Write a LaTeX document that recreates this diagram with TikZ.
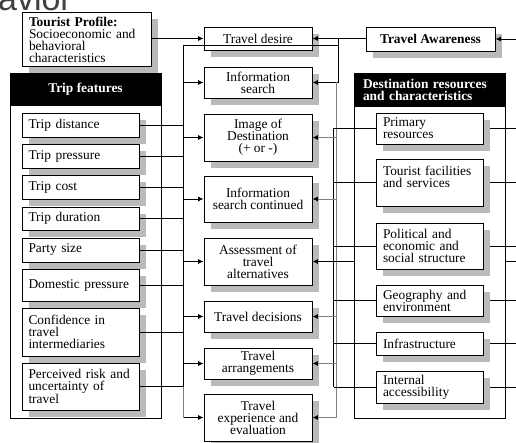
\documentclass[tikz,border=0pt]{standalone}
\usepackage{fontspec}
\setmainfont{Liberation Serif}
\newfontfamily\titlesans{Liberation Sans}
\usetikzlibrary{arrows.meta,shadows}
\setlength{\lineskiplimit}{-6pt}
\begin{document}
\begin{tikzpicture}[x=1pt,y=-1pt,
  font=\fontsize{13.4}{12}\selectfont,
  box/.style={draw=black,line width=0.9pt,fill=white,inner sep=0pt,
    drop shadow={shadow xshift=7pt,shadow yshift=-7pt,fill=black!27,opacity=1}},
  trip/.style={box,align=left,minimum width=117pt,text width=104pt},
  res/.style={box,align=left,minimum width=107pt,text width=93pt},
  mid/.style={box,align=center,minimum width=108pt},
  panel/.style={draw=black,line width=0.9pt,fill=white,inner sep=0pt,minimum width=151pt},
  head/.style={fill=black,draw=black,text=white,inner sep=0pt,minimum width=151pt,font=\fontsize{13.4}{12}\selectfont\bfseries},
  bl/.style={draw=black,line width=0.8pt},
  gl/.style={draw=black!50,line width=0.8pt},
  barr/.style={bl,-{Latex[length=5.5pt,width=5pt]}},
  garr/.style={gl,-{Latex[length=5.5pt,width=5pt,color=black]}}
]
\useasboundingbox (0,0) rectangle (516,443);

% partial title
\node[font=\titlesans\fontsize{34}{34}\selectfont,text=black!75,anchor=base east,inner sep=0pt] (ttl) at (72,10.5) {avior};

% tourist profile
\node[box,align=left,minimum width=129pt,text width=115pt,minimum height=54pt] (tp) at (86.5,39.5)
  {\textbf{Tourist Profile:}\\Socioeconomic and\\behavioral\\characteristics};

% panels
\node[panel,minimum height=345pt] (pl) at (85.5,245.5) {};
\node[head,minimum height=32pt] (hl) at (85.5,89) {Trip features};
\node[panel,minimum height=345pt] (pr) at (429.5,245.5) {};
\node[head,minimum height=33pt,align=left,text width=133pt] (hr) at (429.5,89.5) {Destination resources\\and characteristics};

% trip features
\node[trip,minimum height=24pt] (t1) at (80.5,125) {Trip distance};
\node[trip,minimum height=24pt] (t2) at (80.5,156) {Trip pressure};
\node[trip,minimum height=24pt] (t3) at (80.5,187) {Trip cost};
\node[trip,minimum height=23pt] (t4) at (80.5,218.5) {Trip duration};
\node[trip,minimum height=24pt] (t5) at (80.5,250) {Party size};
\node[trip,minimum height=32pt] (t6) at (80.5,285) {Domestic pressure};
\node[trip,minimum height=48pt] (t7) at (80.5,332) {Confidence in\\travel\\intermediaries};
\node[trip,minimum height=47pt] (t8) at (80.5,386.5) {Perceived risk and\\uncertainty of\\travel};

% destination resources
\node[res,minimum height=31pt] (r1) at (429.5,128.5) {Primary\\resources};
\node[res,minimum height=47pt] (r2) at (429.5,182.5) {Tourist facilities\\and services\\[0pt]\mbox{}};
\node[res,minimum height=46pt] (r3) at (429.5,246) {Political and\\economic and\\social structure};
\node[res,minimum height=31pt] (r4) at (429.5,300.5) {Geography and\\environment};
\node[res,minimum height=23pt] (r5) at (429.5,343.5) {Infrastructure};
\node[res,minimum height=32pt] (r6) at (429.5,387) {Internal\\accessibility};

% middle column
\node[mid,minimum height=23pt] (td) at (258,38.5) {Travel desire};
\node[mid,minimum height=31pt] (is) at (258,82.5) {Information\\search};
\node[mid,minimum height=47pt] (im) at (258,137.5) {Image of\\Destination\\(+ or -)};
\node[mid,minimum height=46pt] (isc) at (258,199) {Information\\search continued};
\node[mid,minimum height=47pt] (as) at (258,261.5) {Assessment of\\travel\\alternatives};
\node[mid,minimum height=31pt] (dec) at (258,316.5) {Travel decisions};
\node[mid,minimum height=31pt] (arr) at (258,363.5) {Travel\\arrangements};
\node[mid,minimum height=47pt] (te) at (258,417.5) {Travel\\experience and\\evaluation};

% travel awareness
\node[box,minimum width=129pt,minimum height=24pt,font=\fontsize{13.4}{12}\selectfont\bfseries] (ta) at (430.5,39) {Travel Awareness};

% bus coordinates
\coordinate (LG) at (183.5,45);
\coordinate (RT) at (338,38.5);
\coordinate (RG) at (338,45);
\coordinate (RGx) at (336.5,0);
\coordinate (RBx) at (333.5,0);
\coordinate (RE) at (516,0);

% left side connectors
\draw[barr] (tp.east |- td) -- (td.west);
\draw[gl] (LG) -- (LG |- te);
\draw[bl] (LG) -- (LG |- t8);
\foreach \n in {t1,t2,t3,t4,t5,t6,t7,t8} \draw[bl] (\n.east) -- (LG |- \n);
\foreach \n in {is,im,isc,as,dec,arr,te} \draw[barr] (LG |- \n) -- (\n.west);

% top cross line and right side
\draw[barr] (ta.west |- td) -- (td.east);
\draw[bl] (LG) -- (RG);
\draw[barr] (RT) -- (RT |- is) -- (is.east);
\draw[gl] (RGx |- is) -- (RGx |- te);
\draw[bl] (RBx |- r1) -- (RBx |- r6);
\foreach \n in {im,isc,dec,arr,te} \draw[garr] (RGx |- \n) -- (\n.east);
\foreach \n in {r1,r2,r3,r4,r5,r6} {
  \draw[bl] (\n.west) -- (RBx |- \n);
  \draw[bl] ([xshift=7pt]\n.east) -- (RE |- \n);
}
\draw[barr] (RE |- ta) -- (ta.east);
\draw[bl] (pr.east |- as) -- (RE |- as);
\draw[barr] (pr.west |- as) -- (as.east);
\end{tikzpicture}
\end{document}
